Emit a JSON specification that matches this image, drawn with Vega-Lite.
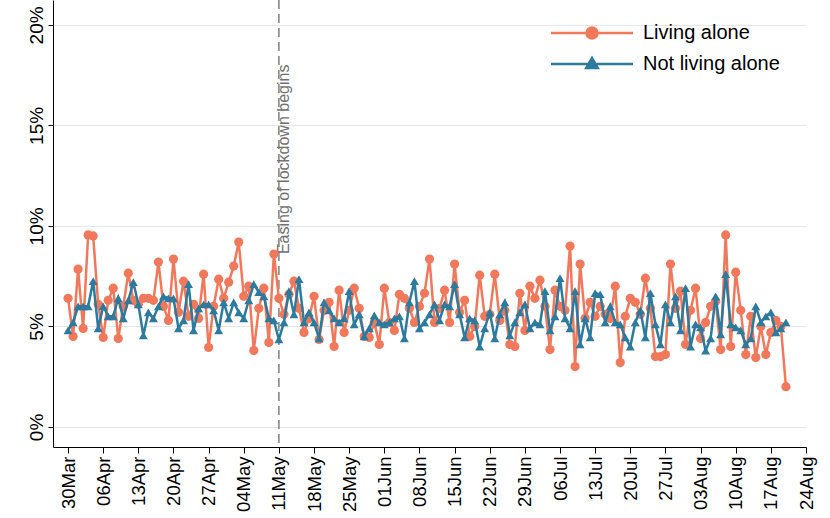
{
  "$schema": "https://vega.github.io/schema/vega-lite/v6.json",
  "autosize": {"type": "none"},
  "width": 753,
  "height": 447,
  "padding": {"left": 53, "top": 0, "right": 24, "bottom": 71},
  "background": "white",
  "config": {
    "view": {"stroke": null},
    "font": "Liberation Sans",
    "axis": {"labelOverlap": false, "labelSeparation": 0, "labelBound": false}
  },
  "data": {
    "values": [
      {"date": "2020-03-30", "Living alone": 6.4, "Not living alone": 4.8},
      {"date": "2020-03-31", "Living alone": 4.5, "Not living alone": 5.2},
      {"date": "2020-04-01", "Living alone": 7.85, "Not living alone": 6.0},
      {"date": "2020-04-02", "Living alone": 4.9, "Not living alone": 6.0},
      {"date": "2020-04-03", "Living alone": 9.55, "Not living alone": 6.0},
      {"date": "2020-04-04", "Living alone": 9.5, "Not living alone": 7.25},
      {"date": "2020-04-05", "Living alone": 6.1, "Not living alone": 4.9},
      {"date": "2020-04-06", "Living alone": 4.45, "Not living alone": 6.0},
      {"date": "2020-04-07", "Living alone": 6.3, "Not living alone": 5.5},
      {"date": "2020-04-08", "Living alone": 6.9, "Not living alone": 5.5},
      {"date": "2020-04-09", "Living alone": 4.4, "Not living alone": 6.4},
      {"date": "2020-04-10", "Living alone": 6.0, "Not living alone": 5.4},
      {"date": "2020-04-11", "Living alone": 7.65, "Not living alone": 6.3},
      {"date": "2020-04-12", "Living alone": 6.3, "Not living alone": 7.2},
      {"date": "2020-04-13", "Living alone": 6.1, "Not living alone": 6.1},
      {"date": "2020-04-14", "Living alone": 6.4, "Not living alone": 4.55},
      {"date": "2020-04-15", "Living alone": 6.4, "Not living alone": 5.7},
      {"date": "2020-04-16", "Living alone": 6.3, "Not living alone": 5.4},
      {"date": "2020-04-17", "Living alone": 8.2, "Not living alone": 6.0},
      {"date": "2020-04-18", "Living alone": 6.0, "Not living alone": 6.5},
      {"date": "2020-04-19", "Living alone": 5.3, "Not living alone": 6.4},
      {"date": "2020-04-20", "Living alone": 8.35, "Not living alone": 6.4},
      {"date": "2020-04-21", "Living alone": 5.7, "Not living alone": 4.9},
      {"date": "2020-04-22", "Living alone": 7.25, "Not living alone": 5.3},
      {"date": "2020-04-23", "Living alone": 5.5, "Not living alone": 7.1},
      {"date": "2020-04-24", "Living alone": 6.1, "Not living alone": 4.8},
      {"date": "2020-04-25", "Living alone": 5.4, "Not living alone": 5.9},
      {"date": "2020-04-26", "Living alone": 7.6, "Not living alone": 6.1},
      {"date": "2020-04-27", "Living alone": 3.95, "Not living alone": 6.1},
      {"date": "2020-04-28", "Living alone": 6.0, "Not living alone": 5.8},
      {"date": "2020-04-29", "Living alone": 7.35, "Not living alone": 4.8},
      {"date": "2020-04-30", "Living alone": 6.4, "Not living alone": 6.2},
      {"date": "2020-05-01", "Living alone": 7.2, "Not living alone": 5.4},
      {"date": "2020-05-02", "Living alone": 8.0, "Not living alone": 6.2},
      {"date": "2020-05-03", "Living alone": 9.2, "Not living alone": 5.7},
      {"date": "2020-05-04", "Living alone": 6.5, "Not living alone": 5.4},
      {"date": "2020-05-05", "Living alone": 7.0, "Not living alone": 6.3},
      {"date": "2020-05-06", "Living alone": 3.8, "Not living alone": 7.1},
      {"date": "2020-05-07", "Living alone": 5.9, "Not living alone": 6.7},
      {"date": "2020-05-08", "Living alone": 6.9, "Not living alone": 6.5},
      {"date": "2020-05-09", "Living alone": 4.2, "Not living alone": 5.4},
      {"date": "2020-05-10", "Living alone": 8.6, "Not living alone": 5.3},
      {"date": "2020-05-11", "Living alone": 6.4, "Not living alone": 4.35},
      {"date": "2020-05-12", "Living alone": 5.6, "Not living alone": 5.2},
      {"date": "2020-05-13", "Living alone": 6.6, "Not living alone": 6.75},
      {"date": "2020-05-14", "Living alone": 7.25, "Not living alone": 5.6},
      {"date": "2020-05-15", "Living alone": 5.9, "Not living alone": 7.35},
      {"date": "2020-05-16", "Living alone": 4.7, "Not living alone": 5.2},
      {"date": "2020-05-17", "Living alone": 5.4, "Not living alone": 5.7},
      {"date": "2020-05-18", "Living alone": 6.5, "Not living alone": 5.2},
      {"date": "2020-05-19", "Living alone": 4.35, "Not living alone": 4.4},
      {"date": "2020-05-20", "Living alone": 5.8, "Not living alone": 6.2},
      {"date": "2020-05-21", "Living alone": 6.2, "Not living alone": 5.8},
      {"date": "2020-05-22", "Living alone": 4.0, "Not living alone": 5.4},
      {"date": "2020-05-23", "Living alone": 6.8, "Not living alone": 5.2},
      {"date": "2020-05-24", "Living alone": 4.7, "Not living alone": 5.4},
      {"date": "2020-05-25", "Living alone": 5.8, "Not living alone": 6.75},
      {"date": "2020-05-26", "Living alone": 6.9, "Not living alone": 5.1},
      {"date": "2020-05-27", "Living alone": 5.9, "Not living alone": 5.6},
      {"date": "2020-05-28", "Living alone": 4.5, "Not living alone": 4.5},
      {"date": "2020-05-29", "Living alone": 4.45, "Not living alone": 4.9},
      {"date": "2020-05-30", "Living alone": 5.2, "Not living alone": 5.55},
      {"date": "2020-05-31", "Living alone": 4.1, "Not living alone": 5.2},
      {"date": "2020-06-01", "Living alone": 6.9, "Not living alone": 5.1},
      {"date": "2020-06-02", "Living alone": 5.2, "Not living alone": 5.2},
      {"date": "2020-06-03", "Living alone": 4.8, "Not living alone": 5.4},
      {"date": "2020-06-04", "Living alone": 6.6, "Not living alone": 5.5},
      {"date": "2020-06-05", "Living alone": 6.4, "Not living alone": 4.4},
      {"date": "2020-06-06", "Living alone": 5.9, "Not living alone": 6.2},
      {"date": "2020-06-07", "Living alone": 5.2, "Not living alone": 7.25},
      {"date": "2020-06-08", "Living alone": 6.0, "Not living alone": 4.9},
      {"date": "2020-06-09", "Living alone": 6.65, "Not living alone": 5.2},
      {"date": "2020-06-10", "Living alone": 8.35, "Not living alone": 5.6},
      {"date": "2020-06-11", "Living alone": 5.2, "Not living alone": 6.1},
      {"date": "2020-06-12", "Living alone": 5.9, "Not living alone": 5.3},
      {"date": "2020-06-13", "Living alone": 6.8, "Not living alone": 6.1},
      {"date": "2020-06-14", "Living alone": 5.2, "Not living alone": 6.0},
      {"date": "2020-06-15", "Living alone": 8.1, "Not living alone": 7.1},
      {"date": "2020-06-16", "Living alone": 5.7, "Not living alone": 5.6},
      {"date": "2020-06-17", "Living alone": 6.3, "Not living alone": 4.45},
      {"date": "2020-06-18", "Living alone": 4.5, "Not living alone": 5.4},
      {"date": "2020-06-19", "Living alone": 5.0, "Not living alone": 5.3},
      {"date": "2020-06-20", "Living alone": 7.55, "Not living alone": 4.0},
      {"date": "2020-06-21", "Living alone": 5.5, "Not living alone": 4.9},
      {"date": "2020-06-22", "Living alone": 5.6, "Not living alone": 5.7},
      {"date": "2020-06-23", "Living alone": 7.6, "Not living alone": 4.4},
      {"date": "2020-06-24", "Living alone": 5.3, "Not living alone": 5.6},
      {"date": "2020-06-25", "Living alone": 5.8, "Not living alone": 6.2},
      {"date": "2020-06-26", "Living alone": 4.1, "Not living alone": 4.55},
      {"date": "2020-06-27", "Living alone": 4.0, "Not living alone": 5.2},
      {"date": "2020-06-28", "Living alone": 6.65, "Not living alone": 5.7},
      {"date": "2020-06-29", "Living alone": 4.8, "Not living alone": 6.1},
      {"date": "2020-06-30", "Living alone": 7.0, "Not living alone": 4.9},
      {"date": "2020-07-01", "Living alone": 6.4, "Not living alone": 5.2},
      {"date": "2020-07-02", "Living alone": 7.3, "Not living alone": 5.1},
      {"date": "2020-07-03", "Living alone": 6.0, "Not living alone": 6.75},
      {"date": "2020-07-04", "Living alone": 3.85, "Not living alone": 4.8},
      {"date": "2020-07-05", "Living alone": 6.8, "Not living alone": 5.5},
      {"date": "2020-07-06", "Living alone": 6.0, "Not living alone": 7.4},
      {"date": "2020-07-07", "Living alone": 5.8, "Not living alone": 5.4},
      {"date": "2020-07-08", "Living alone": 9.0, "Not living alone": 4.9},
      {"date": "2020-07-09", "Living alone": 3.0, "Not living alone": 6.75},
      {"date": "2020-07-10", "Living alone": 8.1, "Not living alone": 4.1},
      {"date": "2020-07-11", "Living alone": 5.4, "Not living alone": 5.4},
      {"date": "2020-07-12", "Living alone": 6.2, "Not living alone": 4.45},
      {"date": "2020-07-13", "Living alone": 5.5, "Not living alone": 6.65},
      {"date": "2020-07-14", "Living alone": 6.0, "Not living alone": 6.6},
      {"date": "2020-07-15", "Living alone": 5.6, "Not living alone": 5.2},
      {"date": "2020-07-16", "Living alone": 5.4, "Not living alone": 6.0},
      {"date": "2020-07-17", "Living alone": 7.0, "Not living alone": 5.2},
      {"date": "2020-07-18", "Living alone": 3.2, "Not living alone": 5.1},
      {"date": "2020-07-19", "Living alone": 5.5, "Not living alone": 4.45},
      {"date": "2020-07-20", "Living alone": 6.4, "Not living alone": 4.0},
      {"date": "2020-07-21", "Living alone": 6.2, "Not living alone": 5.2},
      {"date": "2020-07-22", "Living alone": 5.6, "Not living alone": 5.8},
      {"date": "2020-07-23", "Living alone": 7.4, "Not living alone": 4.45},
      {"date": "2020-07-24", "Living alone": 5.9, "Not living alone": 6.65},
      {"date": "2020-07-25", "Living alone": 3.5, "Not living alone": 5.1},
      {"date": "2020-07-26", "Living alone": 3.5, "Not living alone": 4.1},
      {"date": "2020-07-27", "Living alone": 3.6, "Not living alone": 6.1},
      {"date": "2020-07-28", "Living alone": 8.1, "Not living alone": 5.2},
      {"date": "2020-07-29", "Living alone": 5.9, "Not living alone": 6.5},
      {"date": "2020-07-30", "Living alone": 6.75, "Not living alone": 4.8},
      {"date": "2020-07-31", "Living alone": 4.1, "Not living alone": 6.9},
      {"date": "2020-08-01", "Living alone": 5.8, "Not living alone": 4.0},
      {"date": "2020-08-02", "Living alone": 6.9, "Not living alone": 5.1},
      {"date": "2020-08-03", "Living alone": 4.4, "Not living alone": 4.95},
      {"date": "2020-08-04", "Living alone": 5.2, "Not living alone": 3.8},
      {"date": "2020-08-05", "Living alone": 6.0, "Not living alone": 4.4},
      {"date": "2020-08-06", "Living alone": 6.25, "Not living alone": 6.5},
      {"date": "2020-08-07", "Living alone": 3.85, "Not living alone": 4.6},
      {"date": "2020-08-08", "Living alone": 9.55, "Not living alone": 7.6},
      {"date": "2020-08-09", "Living alone": 4.0, "Not living alone": 5.1},
      {"date": "2020-08-10", "Living alone": 7.7, "Not living alone": 4.95},
      {"date": "2020-08-11", "Living alone": 5.8, "Not living alone": 4.8},
      {"date": "2020-08-12", "Living alone": 3.6, "Not living alone": 4.1},
      {"date": "2020-08-13", "Living alone": 5.5, "Not living alone": 4.4},
      {"date": "2020-08-14", "Living alone": 3.45, "Not living alone": 6.0},
      {"date": "2020-08-15", "Living alone": 5.0, "Not living alone": 5.2},
      {"date": "2020-08-16", "Living alone": 3.6, "Not living alone": 5.5},
      {"date": "2020-08-17", "Living alone": 4.7, "Not living alone": 5.7},
      {"date": "2020-08-18", "Living alone": 5.3, "Not living alone": 4.7},
      {"date": "2020-08-19", "Living alone": 5.0, "Not living alone": 4.9},
      {"date": "2020-08-20", "Living alone": 2.0, "Not living alone": 5.2}
    ]
  },
  "layer": [
    {
      "data": {"values": [{}]},
      "mark": {"type": "rule", "color": "#777777", "strokeDash": [9, 5], "strokeWidth": 1.4},
      "encoding": {
        "x": {"datum": 1589155200000, "type": "temporal"}
      }
    },
    {
      "data": {"values": [{}]},
      "mark": {"type": "text", "text": "Easing of lockdown begins", "angle": 270, "align": "left", "baseline": "middle", "dy": 5, "fontSize": 16, "font": "Liberation Sans", "color": "#707070"},
      "encoding": {
        "x": {"datum": 1589155200000, "type": "temporal"},
        "y": {"datum": 8.6, "type": "quantitative"}
      }
    },
    {
      "transform": [
        {"fold": ["Living alone", "Not living alone"], "as": ["series", "value"]}
      ],
      "encoding": {
        "x": {
          "field": "date",
          "type": "temporal",
          "scale": {"type": "utc", "domain": [1585267200000, 1598227200000], "nice": false},
          "axis": {
            "title": null,
            "values": [1585526400000, 1586131200000, 1586736000000, 1587340800000, 1587945600000, 1588550400000, 1589155200000, 1589760000000, 1590364800000, 1590969600000, 1591574400000, 1592179200000, 1592784000000, 1593388800000, 1593993600000, 1594598400000, 1595203200000, 1595808000000, 1596412800000, 1597017600000, 1597622400000, 1598227200000],
            "tickCount": 100,
            "format": "%d%b",
            "labelAngle": 270,
            "labelAlign": "right",
            "labelBaseline": "middle",
            "labelFontSize": 18.5,
            "labelFont": "Liberation Sans",
            "labelColor": "black",
            "labelPadding": 3,
            "labelOverlap": false,
            "labelSeparation": 0,
            "labelFlush": false,
            "tickSize": 6,
            "tickColor": "black",
            "domainColor": "black",
            "grid": false
          }
        },
        "y": {
          "field": "value",
          "type": "quantitative",
          "scale": {"domain": [-1.0, 21.24], "nice": false, "zero": false},
          "axis": {
            "title": null,
            "values": [0, 5, 10, 15, 20],
            "tickCount": 20,
            "labelExpr": "datum.value + '%'",
            "labelAngle": 270,
            "labelAlign": "center",
            "labelBaseline": "bottom",
            "labelFontSize": 19,
            "labelFont": "Liberation Sans",
            "labelColor": "black",
            "labelPadding": 2,
            "tickSize": 5,
            "tickColor": "black",
            "domainColor": "black",
            "grid": true,
            "gridColor": "#e6e6e6"
          }
        },
        "color": {
          "field": "series",
          "type": "nominal",
          "scale": {"domain": ["Living alone", "Not living alone"], "range": ["#F2785B", "#2C7A9E"]},
          "legend": {
            "title": null,
            "orient": "none",
            "legendX": 488,
            "legendY": 23,
            "labelFontSize": 20,
            "labelFont": "Liberation Sans",
            "labelColor": "black",
            "symbolSize": 100,
            "symbolOffset": 41,
            "labelOffset": 41,
            "rowPadding": 9,
            "encode": {
              "symbols": {
                "update": {
                  "shape": {"signal": "datum.value === 'Living alone' ? 'M-8.2,0H8.2M-1.1,0A1.1,1.1,0,1,0,1.1,0A1.1,1.1,0,1,0,-1.1,0Z' : 'M-8.2,0H8.2M0,-1.2L1.15,0.8L-1.15,0.8Z'"},
                  "fill": {"signal": "datum.value === 'Living alone' ? '#F2785B' : '#2C7A9E'"},
                  "stroke": {"signal": "datum.value === 'Living alone' ? '#F2785B' : '#2C7A9E'"},
                  "strokeWidth": {"value": 2.5},
                  "opacity": {"value": 1},
                  "fillOpacity": {"value": 1}
                }
              }
            }
          }
        }
      },
      "layer": [
        {
          "transform": [{"filter": "datum.series === 'Living alone'"}],
          "mark": {"type": "line", "strokeWidth": 2.5}
        },
        {
          "transform": [{"filter": "datum.series === 'Living alone'"}],
          "mark": {"type": "point", "shape": "circle", "filled": true, "size": 85, "opacity": 1}
        },
        {
          "transform": [{"filter": "datum.series === 'Not living alone'"}],
          "mark": {"type": "line", "strokeWidth": 2.5}
        },
        {
          "transform": [{"filter": "datum.series === 'Not living alone'"}],
          "mark": {"type": "point", "shape": "triangle-up", "filled": true, "size": 80, "opacity": 1}
        }
      ]
    }
  ]
}
